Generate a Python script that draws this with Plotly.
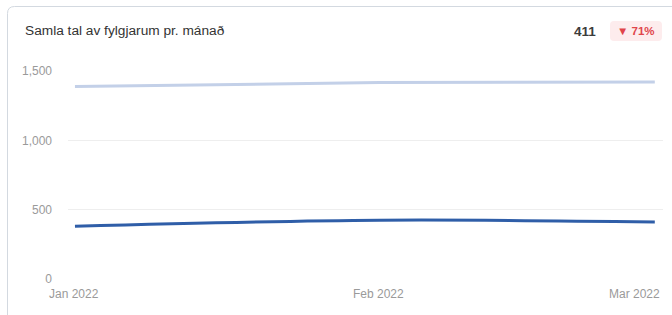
import plotly.graph_objects as go

months = ["2022-01-01", "2022-02-01", "2022-03-01"]
month_labels = ["Jan 2022", "Feb 2022", "Mar 2022"]
previous_period = [1388, 1417, 1421]
current_period = [381, 424, 411]
y_ticks = [0, 500, 1000, 1500]
y_tick_labels = ["0", "500", "1,000", "1,500"]
title = "Samla tal av fylgjarum pr. mánað"
headline_value = "411"
change_text = "▼ 71%"

FONT = "Arial, 'Liberation Sans', sans-serif"
W, H = 672, 315
L, R, T, B = 68, 9, 71, 36
pw, ph = W - L - R, H - T - B

def px(x):
    return (x - L) / pw

def py(y):
    return (H - B - y) / ph

fig = go.Figure()
fig.add_trace(go.Scatter(x=months, y=previous_period, mode="lines",
                         line=dict(color="#c3d0e8", width=3, shape="spline"),
                         hoverinfo="skip", showlegend=False))
fig.add_trace(go.Scatter(x=months, y=current_period, mode="lines",
                         line=dict(color="#2f5ea8", width=3, shape="spline"),
                         hoverinfo="skip", showlegend=False))

# card border with rounded top-left corner
r = 7
x0, y0 = 7.5, 6.5
xe, ye = 700, 340
path = (f"M {px(x0)},{py(ye)} L {px(x0)},{py(y0 + r)} "
        f"Q {px(x0)},{py(y0)} {px(x0 + r)},{py(y0)} L {px(xe)},{py(y0)}")
shapes = [dict(type="path", xref="paper", yref="paper", path=path,
               line=dict(color="#d3d9e0", width=1), layer="below")]
# badge
bx0, bx1, by0, by1 = 610, 662, 21, 41
br = 4
bpath = (f"M {px(bx0 + br)},{py(by0)} L {px(bx1 - br)},{py(by0)} "
         f"Q {px(bx1)},{py(by0)} {px(bx1)},{py(by0 + br)} L {px(bx1)},{py(by1 - br)} "
         f"Q {px(bx1)},{py(by1)} {px(bx1 - br)},{py(by1)} L {px(bx0 + br)},{py(by1)} "
         f"Q {px(bx0)},{py(by1)} {px(bx0)},{py(by1 - br)} L {px(bx0)},{py(by0 + br)} "
         f"Q {px(bx0)},{py(by0)} {px(bx0 + br)},{py(by0)} Z")
shapes.append(dict(type="path", xref="paper", yref="paper", path=bpath,
                   fillcolor="#fdeced", line=dict(width=0), layer="below"))

annotations = [
    dict(text=title, xref="paper", yref="paper", x=px(23), y=py(30.5),
         xanchor="left", yanchor="middle", showarrow=False,
         font=dict(family=FONT, size=13.7, color="#333333")),
    dict(text=f"<b>{headline_value}</b>", xref="paper", yref="paper", x=px(598), y=py(31),
         xanchor="right", yanchor="middle", showarrow=False,
         font=dict(family=FONT, size=13.5, color="#3c3c3c")),
    dict(text=f"<b>{change_text}</b>", xref="paper", yref="paper", x=px(636), y=py(31),
         xanchor="center", yanchor="middle", showarrow=False,
         font=dict(family=FONT, size=11.5, color="#e0454a")),
]
anchors = ["center", "center", "right"]
for m, lab, a in zip(months, month_labels, anchors):
    annotations.append(dict(text=lab, x=m, xref="x", y=py(294), yref="paper",
                            xanchor=a, yanchor="middle", showarrow=False,
                            xshift=(7 if a == "right" else -1),
                            font=dict(family=FONT, size=12, color="#9a9a9a")))

fig.update_layout(
    width=W, height=H,
    margin=dict(l=L, r=R, t=T, b=B),
    paper_bgcolor="white", plot_bgcolor="white",
    shapes=shapes, annotations=annotations,
    xaxis=dict(type="date", range=["2021-12-31 07:00", "2022-03-01 20:00"],
               showgrid=False, showticklabels=False, zeroline=False, showline=False,
               fixedrange=True),
    yaxis=dict(range=[0, 1500], tickvals=y_ticks, ticktext=y_tick_labels,
               showgrid=True, gridcolor="#eeeeee", gridwidth=1, zeroline=False,
               showline=False, ticks="", ticklabelstandoff=15,
               tickfont=dict(family=FONT, size=12, color="#9a9a9a"),
               fixedrange=True),
)
fig.write_html("out.html", config={"displayModeBar": False},
               post_script="document.body.style.margin='0';document.body.style.overflow='hidden';")
